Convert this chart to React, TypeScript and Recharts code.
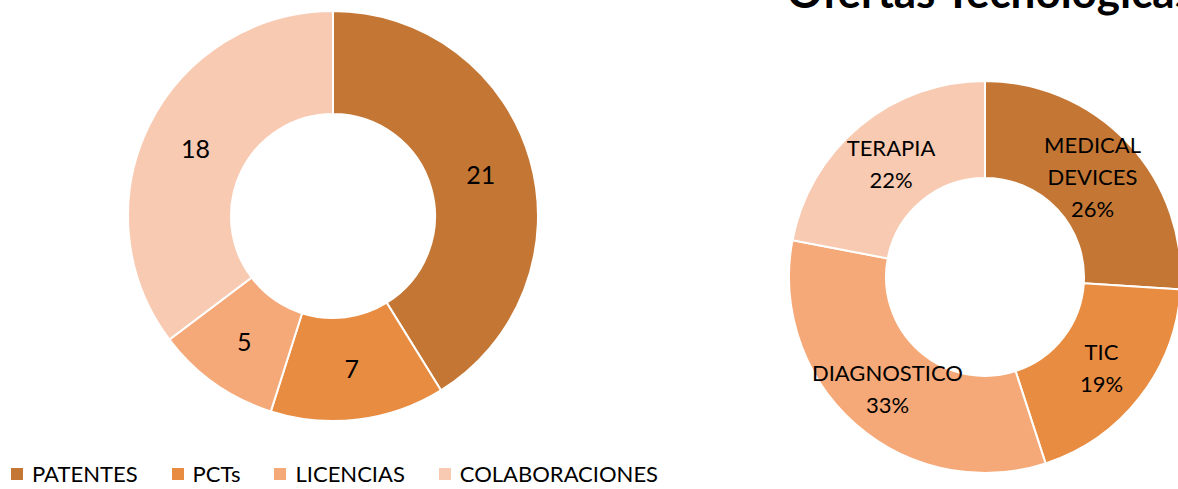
import React from 'react';
import { PieChart, Pie, Cell, Legend } from 'recharts';

const activityNames = ['PATENTES', 'PCTs', 'LICENCIAS', 'COLABORACIONES'];
const activityValues = [21, 7, 5, 18];

const offerNames = ['MEDICAL DEVICES', 'TIC', 'DIAGNOSTICO', 'TERAPIA'];
const offerPercents = [26, 19, 33, 22];

const COLORS = ['#C47735', '#E88C42', '#F5A978', '#F8CAB2'];
const FONT = 'Lato, "Open Sans", sans-serif';
const RADIAN = Math.PI / 180;

const activityData = activityNames.map((name, i) => ({ name, value: activityValues[i] }));
const offerData = offerNames.map((name, i) => ({ name, value: offerPercents[i] }));

function midPoint(props: any) {
  const { cx, cy, midAngle, innerRadius, outerRadius } = props;
  const r = (innerRadius + outerRadius) / 2;
  return {
    x: cx + r * Math.cos(-midAngle * RADIAN),
    y: cy + r * Math.sin(-midAngle * RADIAN),
  };
}

const renderValueLabel = (props: any) => {
  const { x, y } = midPoint(props);
  return (
    <text x={x} y={y} textAnchor="middle" dominantBaseline="central" fill="#000" fontSize={25} fontFamily={FONT}>
      {props.value}
    </text>
  );
};

const renderOfferLabel = (props: any) => {
  const { x, y } = midPoint(props);
  const lines = [...String(props.name).split(' '), `${props.value}%`];
  const lh = 32;
  return (
    <text x={x} y={y} textAnchor="middle" dominantBaseline="central" fill="#000" fontSize={22} fontFamily={FONT}>
      {lines.map((l, i) => (
        <tspan key={i} x={x} dy={i === 0 ? -((lines.length - 1) / 2) * lh : lh}>
          {l}
        </tspan>
      ))}
    </text>
  );
};

const renderLegend = (props: any) => {
  const items = [...(props.payload || [])].sort(
    (a: any, b: any) => activityNames.indexOf(a.value) - activityNames.indexOf(b.value)
  );
  return (
    <div style={{ display: 'flex', alignItems: 'center', fontFamily: FONT, fontSize: 22, color: '#000' }}>
      {items.map((entry: any, i: number) => (
        <div key={i} style={{ display: 'flex', alignItems: 'center', marginRight: 34 }}>
          <span style={{ width: 12, height: 12, background: entry.color, marginRight: 9, display: 'inline-block' }} />
          <span>{entry.value}</span>
        </div>
      ))}
    </div>
  );
};

export default function App() {
  return (
    <div
      style={{
        position: 'absolute',
        left: 0,
        top: 0,
        width: 1178,
        height: 489,
        overflow: 'hidden',
        background: '#fff',
      }}
    >
      <div style={{ position: 'absolute', left: 0, top: 0 }}>
        <PieChart width={690} height={489} margin={{ top: 0, right: 0, bottom: 0, left: 0 }}>
          <Pie
            data={activityData}
            dataKey="value"
            nameKey="name"
            cx={333}
            cy={216}
            innerRadius={102}
            outerRadius={205}
            startAngle={90}
            endAngle={-270}
            stroke="#fff"
            strokeWidth={2}
            label={renderValueLabel}
            labelLine={false}
            isAnimationActive={false}
          >
            {activityData.map((d, i) => (
              <Cell key={d.name} fill={COLORS[i]} />
            ))}
          </Pie>
          <Legend
            verticalAlign="bottom"
            align="left"
            content={renderLegend}
            wrapperStyle={{ left: 11, bottom: 2 }}
          />
        </PieChart>
      </div>
      <div style={{ position: 'absolute', left: 600, top: 0 }}>
        <PieChart width={578} height={489} margin={{ top: 0, right: 0, bottom: 0, left: 0 }}>
          <Pie
            data={offerData}
            dataKey="value"
            nameKey="name"
            cx={385}
            cy={277}
            innerRadius={99}
            outerRadius={196}
            startAngle={90}
            endAngle={-270}
            stroke="#fff"
            strokeWidth={2}
            label={renderOfferLabel}
            labelLine={false}
            isAnimationActive={false}
          >
            {offerData.map((d, i) => (
              <Cell key={d.name} fill={COLORS[i]} />
            ))}
          </Pie>
        </PieChart>
      </div>
      <svg width={1178} height={60} style={{ position: 'absolute', left: 0, top: 0, pointerEvents: 'none' }}>
        <text x={787} y={8} fontFamily={FONT} fontWeight="bold" fontSize={44} fill="#000">
          Ofertas Tecnológicas
        </text>
      </svg>
    </div>
  );
}
